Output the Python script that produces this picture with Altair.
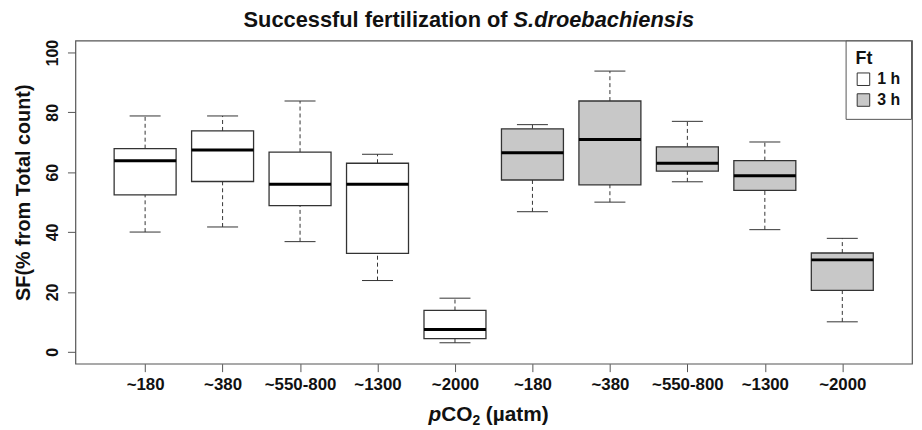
import altair as alt
import pandas as pd

# ---- data ----
positions = [1, 2, 3, 4, 5, 6, 7, 8, 9, 10]
ft_group = ["1 h"] * 5 + ["3 h"] * 5
tick_labels = ["~180", "~380", "~550-800", "~1300", "~2000",
               "~180", "~380", "~550-800", "~1300", "~2000"]
whisker_low = [40.0, 41.7, 36.8, 23.8, 3.0, 46.8, 50.0, 56.8, 40.8, 10.0]
q1 = [52.4, 56.9, 48.8, 32.9, 4.4, 57.4, 55.8, 60.4, 53.9, 20.5]
median = [63.8, 67.4, 56.0, 56.0, 7.4, 66.5, 70.9, 63.0, 58.8, 30.7]
q3 = [67.9, 73.8, 66.7, 63.0, 13.8, 74.5, 83.8, 68.5, 63.9, 33.0]
whisker_high = [78.8, 78.8, 83.8, 66.0, 17.9, 75.9, 93.8, 77.0, 70.1, 37.9]

df = pd.DataFrame({
    "pos": positions, "ft": ft_group, "lo": whisker_low, "q1": q1,
    "med": median, "q3": q3, "hi": whisker_high,
})

FONT = "Liberation Sans"
xscale = alt.Scale(domain=[0.1, 10.9], nice=False, zero=False)
yscale = alt.Scale(domain=[-4, 104], nice=False, zero=False)
label_expr = "[" + ",".join("'%s'" % l for l in tick_labels) + "][datum.value - 1]"

base = alt.Chart(df).transform_calculate(
    xl="datum.pos - 0.4", xr="datum.pos + 0.4",
    cl="datum.pos - 0.2", cr="datum.pos + 0.2",
)

x_main = alt.X("pos:Q", scale=xscale,
               axis=alt.Axis(values=positions, labelExpr=label_expr, title=None,
                             tickSize=8, tickColor="#555", labelFontSize=17,
                             labelFontWeight="bold", labelPadding=5, domain=False,
                             grid=False, labelColor="#111", labelFont=FONT))
y_main = alt.Y("q3:Q", scale=yscale,
               axis=alt.Axis(values=[0, 20, 40, 60, 80, 100], title="SF(% from Total count)",
                             tickSize=8, tickColor="#555", labelFontSize=16,
                             labelFontWeight="bold", labelAngle=270, labelAlign="center",
                             labelBaseline="alphabetic", labelPadding=10, domain=False,
                             grid=False, labelColor="#111", labelFont=FONT,
                             titleFontSize=20, titleFontWeight="bold", titleFont=FONT,
                             titleColor="#111", titleAngle=270, titleAlign="center",
                             titleBaseline="alphabetic", titleX=-46, titleY=153))

whisk_up = base.mark_rule(color="#333", strokeWidth=1, strokeDash=[4, 3]).encode(
    x=x_main, y=y_main, y2="hi:Q")
whisk_dn = base.mark_rule(color="#333", strokeWidth=1, strokeDash=[4, 3]).encode(
    x="pos:Q", y="lo:Q", y2="q1:Q")
cap_up = base.mark_rule(color="#333", strokeWidth=1).encode(
    x="cl:Q", x2="cr:Q", y="hi:Q")
cap_dn = base.mark_rule(color="#333", strokeWidth=1).encode(
    x="cl:Q", x2="cr:Q", y="lo:Q")
boxes = base.mark_bar(stroke="#333", strokeWidth=1.3, opacity=1).encode(
    x="xl:Q", x2="xr:Q", y="q1:Q", y2="q3:Q",
    color=alt.Color("ft:N",
                    scale=alt.Scale(domain=["1 h", "3 h"], range=["#ffffff", "#c8c8c8"]),
                    legend=alt.Legend(title="Ft", orient="none", legendX=777, legendY=0,
                                      fillColor="white", strokeColor="#555", padding=10,
                                      titleFontSize=18, titleFontWeight="bold", titleFont=FONT,
                                      titleColor="#111", titlePadding=3,
                                      labelFontSize=16, labelFontWeight="bold", labelFont=FONT,
                                      labelColor="#111", labelOffset=6,
                                      symbolType="square", symbolSize=160,
                                      symbolStrokeColor="#333", symbolStrokeWidth=1,
                                      rowPadding=3)))
medians = base.mark_rule(color="#000", strokeWidth=3).encode(
    x="xl:Q", x2="xr:Q", y="med:Q")


def txt(s, x, y, size, style="normal", align="left"):
    return alt.Chart(pd.DataFrame({"t": [s]})).mark_text(
        font=FONT, fontSize=size, fontWeight="bold", fontStyle=style,
        align=align, baseline="alphabetic", color="#111",
    ).encode(text="t:N", x=alt.value(x), y=alt.value(y))


# title: "Successful fertilization of " + italic species name
title_a = txt("Successful fertilization of", 436, -14, 22, align="right")
title_b = txt("S.droebachiensis", 442, -14, 22, style="italic")
# x-axis title: italic p, CO, subscript 2, (µatm)
xt_p = txt("p", 369, 384, 21, style="italic", align="right")
xt_co = txt("CO", 369, 384, 21)
xt_2 = txt("2", 400.5, 388, 14)
xt_rest = txt("(µatm)", 414, 384, 21)

chart = alt.layer(
    whisk_up, whisk_dn, cap_up, cap_dn, boxes, medians,
    title_a, title_b, xt_p, xt_co, xt_2, xt_rest,
).properties(
    width=844, height=326,
    autosize=alt.AutoSizeParams(type="none"),
    padding={"left": 68, "top": 31, "right": 2, "bottom": 63},
).configure(background="white").configure_view(stroke="#555", strokeWidth=1.2)

chart.save("out.html", embed_options={"renderer": "svg", "actions": False})
